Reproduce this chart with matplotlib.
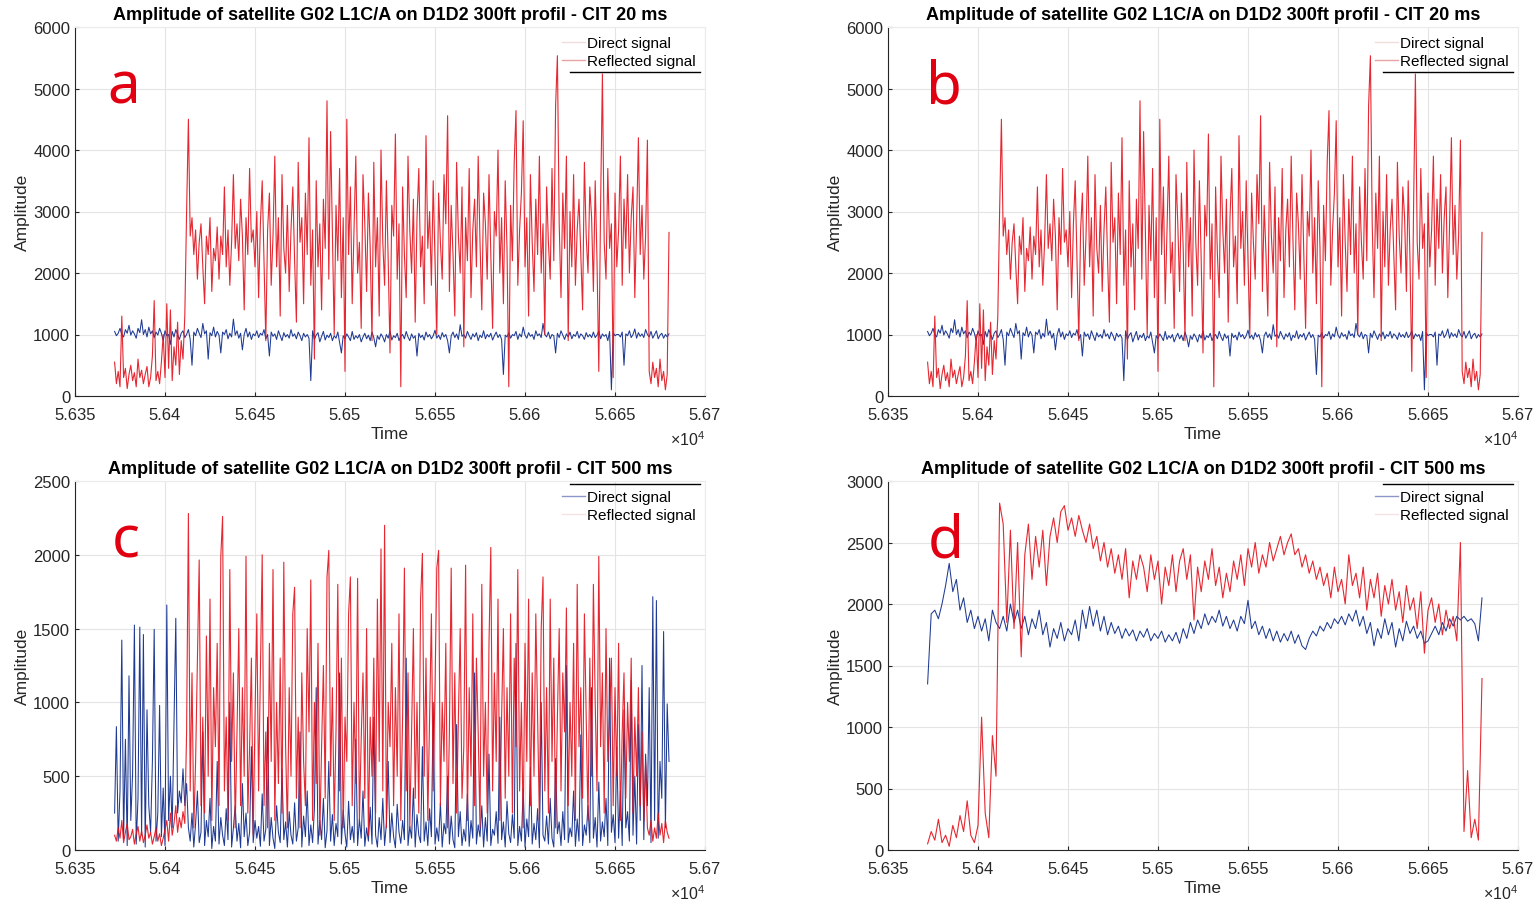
#!/usr/bin/env python3
"""
plot.py
-------
Direct vs reflected signal amplitude of satellite G02 L1C/A on the D1D2 300ft
profile, CIT 20 ms (panels a, b) and CIT 500 ms (panels c, d).
Values are read off the published figure (1 s steps for a-c, 2 s steps for d).

Output:
    out.png
"""

import numpy as np
import matplotlib
matplotlib.use("Agg")
import matplotlib.pyplot as plt
from matplotlib.lines import Line2D
from matplotlib.ticker import FuncFormatter, MultipleLocator

# === Config ===
OUT_FILE = "out.png"
T0 = 56372          # first epoch of every series (s)
STEP_A = 1          # step of the read-off series in panels a-c (s)
STEP_D = 2          # step in panel d (s)
XLIM = (56350, 56700)

BLUE = "#1f3a93"
RED = "#e3101a"
LETTER_RED = "#e00012"
TITLE_20 = "Amplitude of satellite G02 L1C/A on D1D2 300ft profil - CIT 20 ms"
TITLE_500 = "Amplitude of satellite G02 L1C/A on D1D2 300ft profil - CIT 500 ms"
# ====================

# --- CIT 20 ms (panels a and b show the same run) ---
a_direct = [
    1050, 980, 1020, 1100, 1000, 960, 1080, 1020, 1150, 990, 1060, 1010, 940, 1100, 1030, 1240, 1000, 1080, 960, 1120,
    1010, 1060, 950, 1040, 990, 1100, 1020, 900, 1060, 980, 1000, 840, 1050, 960, 1080, 1000, 920, 1020, 1060, 950,
    1000, 1080, 920, 500, 1040, 980, 1100, 1020, 950, 1180, 1010, 1060, 600, 1030, 980, 1120, 960, 1050, 990, 700,
    1040, 1000, 1080, 930, 1020, 960, 1250, 990, 1060, 940, 1020, 750, 1000, 1100, 960, 1040, 920, 1010, 980, 1060,
    950, 1020, 990, 1080, 930, 1000, 650, 1040, 970, 1010, 920, 1060, 980, 900, 1030, 960, 1000, 940, 1080, 970,
    1010, 930, 1040, 980, 900, 1020, 960, 1000, 940, 250, 1060, 920, 990, 1030, 880, 970, 1050, 910, 990, 950,
    1020, 900, 980, 940, 1040, 870, 700, 980, 930, 1010, 960, 900, 1050, 920, 980, 940, 1000, 880, 960, 1020,
    930, 990, 900, 1040, 950, 800, 980, 920, 1010, 960, 880, 1000, 940, 1060, 910, 980, 950, 1020, 900, 970,
    1000, 930, 1050, 960, 900, 1010, 940, 980, 650, 1020, 950, 990, 910, 1040, 960, 1000, 930, 980, 1070, 940,
    990, 920, 1030, 960, 1000, 900, 700, 980, 1040, 950, 1010, 920, 1160, 970, 1000, 940, 1050, 980, 920, 1010,
    960, 1030, 900, 990, 950, 1060, 930, 1000, 960, 1020, 910, 980, 1040, 950, 1000, 920, 350, 990, 960, 1030,
    940, 1000, 980, 1050, 920, 1010, 960, 1120, 990, 940, 1030, 970, 1000, 920, 1060, 980, 1010, 950, 1180, 1000,
    960, 1040, 930, 1000, 980, 700, 1020, 950, 1060, 990, 920, 1010, 960, 1040, 930, 1000, 970, 1050, 940, 1010,
    980, 920, 1030, 960, 1000, 950, 1040, 950, 990, 1060, 930, 1010, 970, 1000, 900, 1050, 100, 1030, 980, 1000,
    1000, 960, 1040, 500, 1010, 980, 1060, 950, 1000, 1090, 940, 1030, 970, 1010, 950, 1080, 1000, 960, 1050, 940,
    1000, 1060, 930, 990, 1020, 940, 1000, 960, 1010,
]
a_reflected = [
    550, 200, 400, 150, 1300, 300, 450, 120, 350, 500, 250, 380, 150, 600, 300, 420, 200, 350, 480, 150,
    300, 650, 1550, 250, 400, 200, 550, 1000, 300, 1500, 450, 1400, 250, 800, 500, 1200, 350, 900, 600, 1300,
    3000, 4500, 2600, 2900, 2300, 2700, 1900, 2500, 2800, 2100, 1500, 2600, 2300, 2900, 1700, 2400, 2200, 2750, 1900, 2600,
    2300, 3400, 2100, 2700, 1800, 2500, 3600, 2400, 2800, 2200, 3200, 2600, 1400, 2900, 2300, 3700, 2500, 2700, 2100, 3000,
    1600, 2800, 3500, 2200, 900, 2700, 3300, 1800, 2600, 3900, 2100, 2900, 1300, 3600, 2400, 2000, 3100, 1700, 2700, 3400,
    2200, 1200, 3800, 2500, 2900, 1500, 3300, 2300, 4200, 1800, 2700, 600, 3500, 2100, 2800, 1400, 3200, 2400, 4800, 1900,
    4300, 2600, 1000, 3100, 2200, 3700, 1600, 2900, 400, 4500, 2300, 3400, 1500, 2700, 3900, 2000, 2500, 1100, 3600, 2800,
    1700, 3300, 2400, 900, 3800, 2100, 2900, 1300, 4000, 2500, 1800, 3500, 2200, 700, 3100, 2600, 4260, 1900, 2800, 150,
    3400, 2300, 1600, 3900, 2700, 2000, 3200, 1200, 2900, 3700, 2100, 2600, 1500, 4233, 2400, 3000, 1800, 3500, 2200, 1000,
    3300, 2500, 1900, 3600, 2800, 4557, 1700, 3100, 2300, 1300, 3800, 2600, 2000, 3400, 800, 2900, 2200, 3700, 1600, 2700,
    3200, 2100, 3900, 2500, 1400, 3300, 2800, 1900, 3600, 2300, 1100, 3000, 2600, 4000, 2000, 2900, 1500, 3500, 2400, 150,
    3100, 2200, 3800, 4640, 1800, 2700, 3300, 4476, 2100, 2900, 1300, 3600, 2500, 1700, 3200, 2300, 3900, 2000, 2800, 1000,
    3400, 2500, 1900, 3700, 2200, 4720, 5533, 2800, 1600, 3300, 2400, 3900, 900, 3000, 2100, 3600, 1800, 2700, 3200, 2300,
    1400, 3800, 2600, 2000, 3400, 2900, 1700, 3500, 2200, 400, 3100, 5236, 2500, 1900, 3700, 2400, 2800, 300, 3300, 2100,
    2700, 3900, 1800, 3200, 2400, 3600, 2000, 2900, 3400, 1600, 2800, 4200, 2300, 3100, 1900, 2600, 4160, 400, 200, 550,
    300, 450, 150, 600, 250, 400, 100, 350, 2660,
]

# --- CIT 500 ms, panel c ---
c_direct = [
    250, 836, 60, 400, 1422, 80, 750, 30, 1180, 200, 520, 1524, 40, 350, 1510, 100, 1460, 20, 950, 300,
    120, 600, 1495, 60, 250, 980, 90, 420, 30, 1660, 200, 500, 150, 880, 1570, 250, 400, 320, 550, 300,
    450, 150, 60, 250, 20, 180, 400, 50, 120, 800, 30, 200, 90, 350, 10, 160, 60, 600, 40, 220,
    100, 30, 280, 70, 1000, 20, 150, 300, 60, 180, 15, 450, 90, 250, 30, 120, 700, 50, 200, 80,
    160, 25, 380, 60, 140, 900, 30, 220, 80, 10, 300, 120, 50, 550, 70, 190, 20, 260, 100, 40,
    320, 60, 150, 800, 20, 230, 90, 400, 30, 170, 50, 280, 1100, 40, 200, 70, 350, 15, 130, 600,
    60, 240, 30, 180, 90, 1200, 40, 270, 110, 20, 330, 70, 160, 50, 750, 30, 210, 80, 400, 25,
    150, 60, 290, 40, 900, 100, 20, 220, 70, 350, 30, 180, 600, 50, 250, 90, 15, 310, 120, 45,
    200, 70, 1300, 30, 160, 80, 420, 20, 240, 100, 50, 700, 60, 190, 30, 280, 90, 1000, 40, 150,
    60, 320, 20, 180, 110, 500, 40, 230, 70, 15, 850, 90, 260, 30, 140, 60, 380, 25, 200, 80,
    1200, 40, 170, 90, 300, 20, 220, 60, 650, 30, 140, 100, 260, 45, 900, 70, 190, 20, 330, 110,
    50, 240, 80, 1400, 30, 160, 60, 420, 20, 210, 90, 560, 40, 180, 70, 280, 15, 1000, 100, 60,
    230, 40, 350, 80, 20, 620, 110, 190, 30, 260, 70, 1250, 50, 150, 90, 400, 25, 210, 60, 780,
    30, 170, 100, 300, 50, 1100, 80, 220, 20, 460, 60, 190, 90, 350, 30, 1300, 120, 240, 50, 700,
    80, 400, 30, 950, 150, 260, 60, 1150, 100, 500, 40, 850, 200, 1250, 70, 650, 300, 1100, 50, 1716,
    200, 1690, 80, 600, 350, 1480, 150, 990, 600,
]
c_reflected = [
    100, 60, 150, 80, 200, 50, 120, 180, 70, 90, 140, 40, 110, 160, 60, 130, 50, 100, 170, 80,
    120, 40, 90, 150, 60, 110, 30, 80, 140, 200, 60, 250, 100, 180, 300, 120, 220, 150, 260, 180,
    800, 2280, 400, 1200, 150, 600, 1300, 1965, 300, 900, 250, 1450, 500, 1700, 200, 1100, 700, 1400, 300, 1990,
    2260, 400, 900, 200, 1900, 600, 1200, 150, 800, 1500, 300, 1100, 500, 1990, 250, 700, 1300, 100, 900, 1600,
    400, 1200, 2000, 300, 800, 150, 1400, 600, 1900, 200, 1000, 450, 1300, 250, 1950, 700, 150, 1100, 500, 1600,
    1780, 350, 900, 150, 1200, 600, 300, 1500, 800, 1830, 200, 1000, 450, 1400, 100, 700, 1250, 350, 1850, 2030,
    500, 1100, 200, 800, 1800, 400, 1300, 150, 900, 600, 1600, 1850, 300, 1000, 450, 1840, 200, 750, 1200, 350,
    1500, 100, 900, 500, 1300, 250, 1700, 600, 2040, 400, 2200, 150, 1000, 700, 1400, 300, 1100, 500, 1600, 200,
    900, 1910, 400, 1200, 150, 800, 1500, 350, 1000, 250, 1700, 2010, 500, 1300, 200, 900, 1600, 400, 1100, 1910,
    2030, 300, 1000, 600, 1400, 150, 800, 1910, 450, 1200, 250, 900, 1500, 350, 700, 1930, 200, 1100, 500, 1600,
    300, 1300, 800, 150, 1800, 500, 1000, 250, 1400, 2050, 400, 1200, 600, 1700, 200, 900, 1500, 350, 1100, 500,
    1600, 250, 1300, 700, 1900, 400, 1000, 150, 1400, 600, 1700, 300, 1200, 500, 1600, 900, 200, 1500, 1850, 400,
    1100, 250, 1700, 600, 1300, 150, 900, 1500, 400, 1200, 800, 1640, 300, 1000, 500, 1400, 200, 1800, 700, 1100,
    350, 1600, 900, 200, 1300, 500, 1800, 1000, 400, 1990, 700, 1200, 250, 1500, 600, 900, 1300, 300, 1100, 500,
    1400, 200, 800, 1200, 350, 1000, 600, 1300, 250, 900, 500, 1100, 300, 800, 200, 600, 150, 100, 200, 60,
    150, 80, 250, 100, 180, 50, 200, 120, 80,
]

# --- CIT 500 ms, panel d (2 s steps) ---
d_direct = [
    1350, 1920, 1950, 1880, 2000, 2150, 2330, 2100, 2200, 1950, 2050, 1850, 1950, 1800, 1900, 1780, 1880, 1700, 1950, 1850,
    1800, 1900, 1780, 2000, 1850, 1950, 1800, 1900, 1750, 1880, 1800, 1950, 1750, 1850, 1650, 1800, 1720, 1850, 1700, 1800,
    1750, 1870, 1700, 1950, 1800, 1980, 1820, 1950, 1780, 1900, 1750, 1850, 1760, 1820, 1720, 1800, 1740, 1790, 1700, 1780,
    1730, 1800, 1700, 1760, 1720, 1780, 1690, 1750, 1700, 1770, 1680, 1800, 1720, 1850, 1760, 1870, 1800, 1920, 1830, 1900,
    1850, 1950, 1820, 1900, 1800, 1870, 1780, 1900, 1840, 2030, 1800, 1860, 1750, 1820, 1720, 1800, 1700, 1780, 1690, 1760,
    1700, 1780, 1680, 1750, 1660, 1630, 1720, 1780, 1740, 1820, 1780, 1850, 1800, 1880, 1840, 1900, 1830, 1920, 1860, 1950,
    1820, 1900, 1760, 1850, 1660, 1800, 1720, 1880, 1750, 1850, 1650, 1800, 1700, 1860, 1760, 1820, 1720, 1780, 1680, 1700,
    1760, 1820, 1750, 1850, 1780, 1880, 1820, 1900, 1870, 1900, 1860, 1880, 1840, 1700, 2050,
]
d_reflected = [
    50, 150, 80, 250, 60, 120, 30, 200, 100, 280, 150, 400, 120, 60, 200, 1080, 300, 100, 930, 600,
    2820, 2650, 1850, 2600, 1800, 2500, 1570, 2400, 2650, 2200, 2550, 2300, 2600, 2150, 2550, 2700, 2500, 2750, 2800, 2600,
    2700, 2550, 2720, 2600, 2500, 2650, 2450, 2550, 2350, 2500, 2300, 2450, 2250, 2400, 2200, 2450, 2050, 2350, 2200, 2400,
    2300, 2100, 2400, 2200, 2350, 2000, 2300, 2150, 2400, 2100, 2350, 2450, 2200, 2400, 1870, 2300, 2100, 2350, 2200, 2450,
    2150, 2300, 2050, 2250, 2100, 2350, 2200, 2400, 2150, 2450, 2300, 2500, 2250, 2400, 2300, 2500, 2350, 2450, 2550, 2400,
    2500, 2570, 2400, 2450, 2300, 2400, 2250, 2350, 2200, 2300, 2150, 2250, 2050, 2300, 2100, 2200, 2000, 2400, 2150, 2250,
    2050, 2300, 1950, 2200, 2050, 2250, 1900, 2150, 2000, 2200, 1950, 2100, 1850, 2150, 1950, 2050, 1800, 2100, 1600, 1950,
    2050, 1850, 2000, 1750, 1950, 1800, 1900, 1700, 2500, 150, 646, 100, 250, 80, 1394,
]


def tick_1e4(v, _pos):
    return f"{v / 1e4:g}"


def draw_panel(ax, direct, reflected, step, ymax, ystep, title, letter, letter_x, legend_faint):
    t_dir = T0 + step * np.arange(len(direct))
    t_ref = T0 + step * np.arange(len(reflected))
    ax.plot(t_dir, direct, color=BLUE, lw=0.75)
    ax.plot(t_ref, reflected, color=RED, lw=0.8, alpha=0.9)

    ax.set_xlim(*XLIM)
    ax.set_ylim(0, ymax)
    ax.xaxis.set_major_locator(MultipleLocator(50))
    ax.xaxis.set_major_formatter(FuncFormatter(tick_1e4))
    ax.yaxis.set_major_locator(MultipleLocator(ystep))
    ax.grid(True, color="#e4e4e4", lw=0.8)
    ax.set_axisbelow(True)
    ax.tick_params(direction="in", length=3, labelsize=12, colors="#262626")
    ax.tick_params(axis="x", pad=8)
    for side in ("top", "right"):
        ax.spines[side].set_color("#ebebeb")
    for side in ("left", "bottom"):
        ax.spines[side].set_color("#262626")

    ax.set_title(title, fontsize=13, fontweight="bold", pad=6)
    ax.set_xlabel("Time", fontsize=12.5, labelpad=3, color="#262626")
    ax.set_ylabel("Amplitude", fontsize=12.5, labelpad=2, color="#262626")
    ax.text(1.0, -0.115, r"$\times10^{4}$", transform=ax.transAxes,
            ha="right", va="center", fontsize=11.5, color="#262626")

    ax.text(letter_x, 0.796, letter, transform=ax.transAxes, ha="center",
            va="baseline", fontsize=42, color=LETTER_RED, family="Noto Sans")

    # legend with the washed-out handles of the original export
    if legend_faint:
        handles = [Line2D([], [], color="#f3dcdc", lw=1),
                   Line2D([], [], color="#e6a3a3", lw=1)]
        rule_y = 0.878
    else:
        handles = [Line2D([], [], color="#8c96c8", lw=1),
                   Line2D([], [], color="#f6e2e2", lw=1)]
        rule_y = 0.992
    ax.legend(handles, ["Direct signal", "Reflected signal"], loc="upper right",
              frameon=False, fontsize=11, handlelength=1.5, handletextpad=0.15,
              labelspacing=0.26, borderaxespad=0.4, borderpad=0.2)
    ax.plot([0.786, 0.992], [rule_y, rule_y], transform=ax.transAxes,
            color="black", lw=1, clip_on=False)


def main():
    plt.rcParams["font.family"] = ["Liberation Sans", "DejaVu Sans"]
    plt.rcParams["mathtext.fontset"] = "custom"
    plt.rcParams["mathtext.rm"] = "Liberation Sans"
    plt.rcParams["mathtext.it"] = "Liberation Sans:italic"

    fig = plt.figure(figsize=(15.4, 9.03), dpi=100)
    w, h = 630 / 1540, 369 / 903
    ax_a = fig.add_axes([75 / 1540, 1 - 397 / 903, w, h])
    ax_b = fig.add_axes([888 / 1540, 1 - 397 / 903, w, h])
    ax_c = fig.add_axes([75 / 1540, 1 - 851 / 903, w, h])
    ax_d = fig.add_axes([888 / 1540, 1 - 851 / 903, w, h])

    draw_panel(ax_a, a_direct, a_reflected, STEP_A, 6000, 1000, TITLE_20, "a", 0.078, True)
    draw_panel(ax_b, a_direct, a_reflected, STEP_A, 6000, 1000, TITLE_20, "b", 0.089, True)
    draw_panel(ax_c, c_direct, c_reflected, STEP_A, 2500, 500, TITLE_500, "c", 0.080, False)
    draw_panel(ax_d, d_direct, d_reflected, STEP_D, 3000, 500, TITLE_500, "d", 0.092, False)

    fig.savefig(OUT_FILE, dpi=100)
    print(f"[✓] Saved {OUT_FILE}")


if __name__ == "__main__":
    main()
